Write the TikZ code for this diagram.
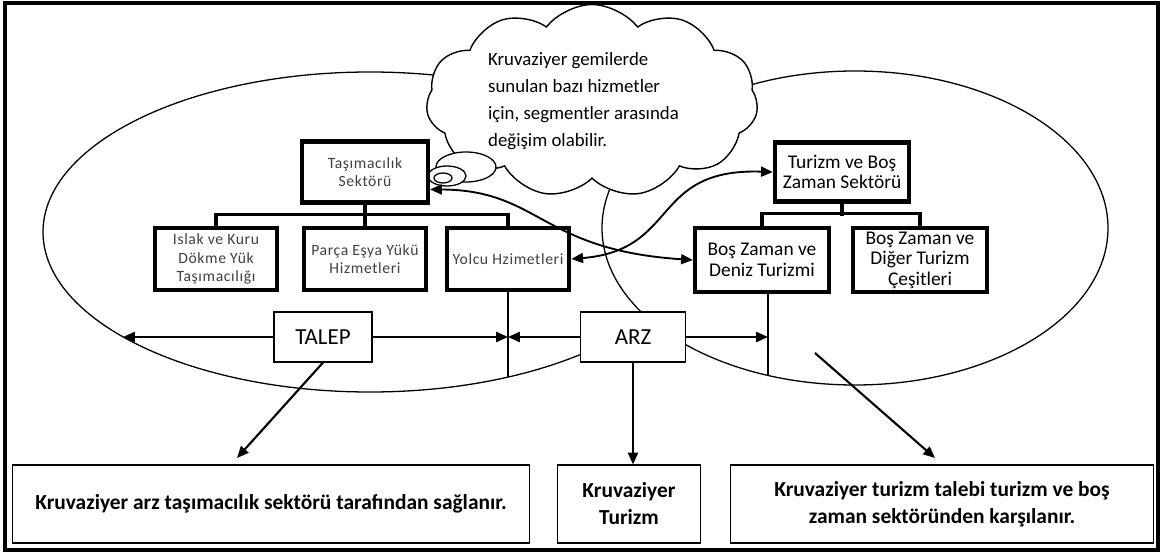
\documentclass[tikz,border=0pt]{standalone}
\usepackage{fontspec}
\setmainfont{Carlito}
\newfontfamily\seyrek[LetterSpace=4]{Carlito}
\usetikzlibrary{arrows.meta,shapes.symbols}

\begin{document}
\begin{tikzpicture}[
            x = 0.85pt, y = -0.85pt, % pixel grid, y runs downwards
            > = {Triangle[length=10pt,width=8.5pt]}, % arrow head style
            kalin/.style = {draw=black, line width=3.6pt, fill=white, align=center, inner sep=1pt},
            solkutu/.style = {kalin, minimum width=104pt, minimum height=53pt,
                              font=\seyrek\fontsize{13.3}{15.8}\selectfont, text=black!75},
            sagkutu/.style = {kalin, minimum width=114pt, minimum height=55pt,
                              font=\fontsize{16.5}{17.5}\selectfont},
            etiket/.style = {draw=black, line width=1.4pt, fill=white, minimum height=42pt,
                             font=\fontsize{19.5}{21}\selectfont},
            altkutu/.style = {draw=black, line width=1.2pt, fill=white, align=center,
                              minimum height=66pt, font=\bfseries\fontsize{18.2}{23}\selectfont},
            kol/.style = {line width=3pt}, % tree brackets
            ok/.style = {->, line width=1.8pt},
            ciftok/.style = {<->, line width=1.6pt},
            halka/.style = {line width=1.1pt} % thin outlines
        ]
\useasboundingbox (0,0) rectangle (1166,554);
\draw[line width=3.4pt] (5,3) rectangle (1158,550);

% the two segments
\draw[halka] (370,232) ellipse [x radius=327, y radius=160];
\draw[halka, fill=white] (855,228) ellipse [x radius=253, y radius=157];

% thought cloud
\node[cloud, draw=black, fill=white, line width=1.2pt, cloud puffs=11, cloud puff arc=105,
      aspect=1.7, minimum width=282pt, minimum height=164pt] (bulut) at (592,101) {};
\node[anchor=west, align=left, font=\fontsize{16}{23}\selectfont] (not) at (484,101)
      {Kruvaziyer gemilerde\\sunulan bazı hizmetler\\için, segmentler arasında\\değişim olabilir.};
\draw[halka, fill=white] (466,167) ellipse [x radius=30, y radius=15];
\draw[halka, fill=white] (447,176) ellipse [x radius=19, y radius=10];
\draw[halka, fill=white] (443,178) ellipse [x radius=9, y radius=5];

% transport sector
\node[solkutu, minimum width=107pt, minimum height=52pt] (tas) at (365,172) {Taşımacılık\\Sektörü};
\node[solkutu] (islak) at (216,259) {Islak ve Kuru\\Dökme Yük\\Taşımacılığı};
\node[solkutu] (parca) at (365,259) {Parça Eşya Yükü\\Hizmetleri};
\node[solkutu] (yolcu) at (508,259) {Yolcu Hzimetleri};

% tourism and leisure sector
\node[sagkutu, minimum height=50pt] (turizm) at (842,172) {Turizm ve Boş\\Zaman Sektörü};
\node[sagkutu] (deniz) at (762,260) {Boş Zaman ve\\Deniz Turizmi};
\node[sagkutu] (diger) at (920,260) {Boş Zaman ve\\Diğer Turizm\\Çeşitleri};

\draw[kol] (islak.north) -- ++(0,-11) -| (yolcu.north);
\draw[kol] (tas.south) -- (parca.north);
\draw[kol] (deniz.north) -- ++(0,-12) -| (diger.north);
\draw[kol] (turizm.south) -- ++(0,12);

% demand and supply
\node[etiket, minimum width=83pt] (talep) at (323,337) {TALEP};
\node[etiket, minimum width=89pt] (arz) at (633,337) {ARZ};

\node[altkutu, minimum width=439pt] (sol) at (271,504) {Kruvaziyer arz taşımacılık sektörü tarafından sağlanır.};
\node[altkutu, minimum width=122pt] (orta) at (629,504) {Kruvaziyer\\Turizm};
\node[altkutu, minimum width=360pt] (sag) at (942,504) {Kruvaziyer turizm talebi turizm ve boş\\zaman sektöründen karşılanır.};

\coordinate (yolcudip) at (508,377);
\coordinate (denizdip) at (768,375);
\coordinate (soluc) at (123,337);
\coordinate (solhedef) at (237,458);
\coordinate (sagbas) at (815,353);
\coordinate (saghedef) at (935,458);

\draw[halka] (yolcu.south) -- (yolcudip);
\draw[halka] (deniz.south -| denizdip) -- (denizdip);

\path [ok] (talep.west) edge (soluc);
\path [ok] (talep.east) edge (yolcudip |- talep.east);
\path [ok] (arz.west) edge (yolcudip |- arz.west);
\path [ok] (arz.east) edge (denizdip |- arz.east);
\path [ok] (talep.south) edge (solhedef);
\path [ok] (arz.south) edge (arz.south |- orta.north);
\path [ok] (sagbas) edge (saghedef);

% exchange between segments
\draw[ciftok] (tas.-15) .. controls (540,190) and (540,250) .. (deniz.west);
\draw[ciftok] (yolcu.east) .. controls (680,250) and (650,168) .. (turizm.west);
\end{tikzpicture}
\end{document}
